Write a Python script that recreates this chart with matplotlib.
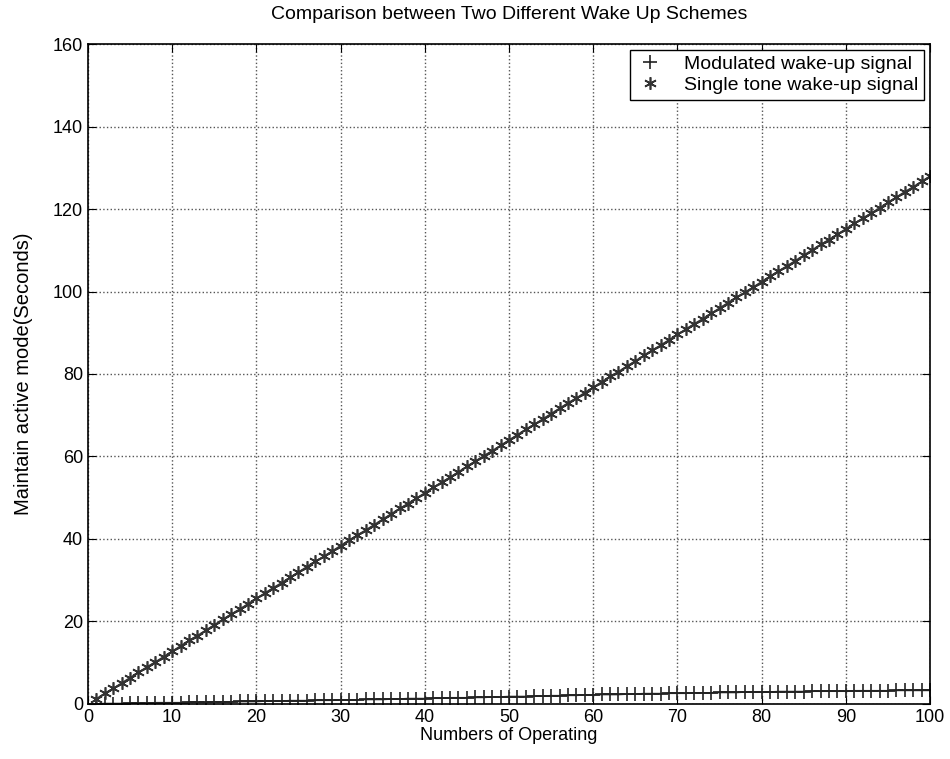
import numpy as np
from matplotlib import pyplot as plt

plt.rcParams['font.family'] = ['Liberation Sans', 'DejaVu Sans']

# numbers of operating (x)
operating = list(range(1, 101))

# modulated wake-up signal
modulated = [0.0, 0.1, 0.1, 0.1, 0.2, 0.2, 0.2, 0.3, 0.3, 0.3,
             0.3, 0.4, 0.4, 0.4, 0.5, 0.5, 0.5, 0.6, 0.6, 0.6,
             0.7, 0.7, 0.7, 0.8, 0.8, 0.8, 0.9, 0.9, 0.9, 1.0,
             1.0, 1.0, 1.1, 1.1, 1.1, 1.2, 1.2, 1.3, 1.3, 1.3,
             1.4, 1.4, 1.5, 1.5, 1.5, 1.6, 1.6, 1.7, 1.7, 1.8,
             1.8, 1.8, 1.9, 1.9, 2.0, 2.0, 2.1, 2.1, 2.2, 2.2,
             2.3, 2.3, 2.3, 2.4, 2.4, 2.5, 2.5, 2.5, 2.6, 2.6,
             2.6, 2.7, 2.7, 2.7, 2.8, 2.8, 2.8, 2.9, 2.9, 2.9,
             2.9, 3.0, 3.0, 3.0, 3.0, 3.1, 3.1, 3.1, 3.1, 3.1,
             3.2, 3.2, 3.2, 3.2, 3.2, 3.3, 3.3, 3.3, 3.3, 3.3]

# single tone wake-up signal
singleTone = [1.3, 2.6, 3.8, 5.1, 6.4, 7.7, 9.0, 10.2, 11.5, 12.8,
              14.1, 15.4, 16.6, 17.9, 19.2, 20.5, 21.8, 23.0, 24.3, 25.6,
              26.9, 28.2, 29.4, 30.7, 32.0, 33.3, 34.6, 35.8, 37.1, 38.4,
              39.7, 41.0, 42.2, 43.5, 44.8, 46.1, 47.4, 48.6, 49.9, 51.2,
              52.5, 53.8, 55.0, 56.3, 57.6, 58.9, 60.2, 61.4, 62.7, 64.0,
              65.3, 66.6, 67.8, 69.1, 70.4, 71.7, 73.0, 74.2, 75.5, 76.8,
              78.1, 79.4, 80.6, 81.9, 83.2, 84.5, 85.8, 87.0, 88.3, 89.6,
              90.9, 92.2, 93.4, 94.7, 96.0, 97.3, 98.6, 99.8, 101.1, 102.4,
              103.7, 105.0, 106.2, 107.5, 108.8, 110.1, 111.4, 112.6, 113.9, 115.2,
              116.5, 117.8, 119.0, 120.3, 121.6, 122.9, 124.2, 125.4, 126.7, 128.0]

fig = plt.figure(figsize=(9.5, 7.59), dpi=100)
ax = fig.add_axes([0.0926, 0.0725, 0.8864, 0.8695])

asterisk = (6, 2, 0)
ax.plot(operating, modulated, '-', color='#222222', linewidth=1.2)
ax.plot(operating, singleTone, '-', color='#333333', linewidth=1.0)
ax.plot(operating, modulated, '+', color='#222222', markersize=10, markeredgewidth=1.2,
        label='Modulated wake-up signal')
ax.plot(operating, singleTone, marker=asterisk, linestyle='none', color='#333333',
        markersize=9, markeredgewidth=1.2, label='Single tone wake-up signal')

ax.set_xlim(0, 100)
ax.set_ylim(0, 160)
ax.set_xticks(np.arange(0, 101, 10))
ax.set_yticks(np.arange(0, 161, 20))
ax.tick_params(direction='in', top=True, right=True, labelsize=13, length=6)
ax.grid(True, linestyle=':', color='#555555', linewidth=1.0)
for s in ax.spines.values():
    s.set_linewidth(1.2)

ax.set_title("Comparison between Two Different Wake Up Schemes", fontsize=14, pad=18)
ax.set_xlabel("Numbers of Operating", fontsize=13, labelpad=1)
ax.set_ylabel("Maintain active mode(Seconds)", fontsize=14.5, labelpad=14)
leg = ax.legend(loc='upper right', fontsize=14, fancybox=False, framealpha=1,
                edgecolor='black', borderaxespad=0.3, handlelength=1.5,
                labelspacing=0.15, borderpad=0.3, handletextpad=1.0)
leg.get_frame().set_linewidth(1.0)

plt.savefig("out.png")
